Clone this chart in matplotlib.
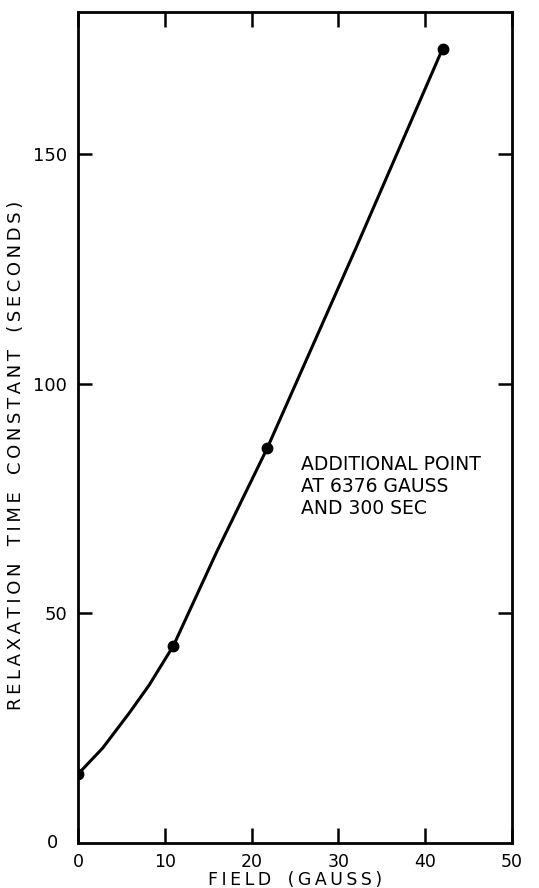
import matplotlib
matplotlib.use('Agg')
import matplotlib.pyplot as plt

# measured points (field in gauss, relaxation time constant in seconds)
field = [0, 11, 21.8, 42]
tau = [15, 43, 86, 173]

# points
curve_field = [0, 2.85, 5.9, 8.2, 11, 16, 21.8, 32, 42]
curve_tau = [15, 20.7, 28.3, 34.4, 43, 63.5, 86, 129.5, 173]

x_ticks = [0, 10, 20, 30, 40, 50]
y_ticks = [50, 100, 150]

plt.rcParams['font.family'] = ['DejaVu Sans']


def spaced(s):
    # hand lettering on the original is widely spaced
    return '\u2009'.join(s)


fig = plt.figure(figsize=(5.39, 8.88), dpi=100)
ax = fig.add_axes([78 / 539, 45 / 888, 434 / 539, 831 / 888])

ax.plot(curve_field, curve_tau, color='black', lw=2.2, solid_capstyle='round')
ax.plot(field, tau, 'o', color='black', ms=7.5)

ax.set_xlim(0, 50)
ax.set_ylim(0, 181)

for s in ax.spines.values():
    s.set_linewidth(2.0)

ax.set_xticks(x_ticks)
ax.set_xticklabels([str(v) for v in x_ticks], fontsize=12.5)
ax.set_yticks(y_ticks)
ax.set_yticklabels([str(v) for v in y_ticks], fontsize=13)
ax.tick_params(axis='both', direction='in', width=1.8, top=True, right=True)
ax.tick_params(axis='x', length=11, pad=7)
ax.tick_params(axis='y', length=10, pad=8)

# lone zero on the y axis, set at the corner
ax.text(-0.045, 0.0, '0', transform=ax.transAxes, fontsize=13,
        ha='right', va='center')

ax.set_xlabel(spaced('FIELD') + '   ' + spaced('(GAUSS)'), fontsize=12.5, va='center')
ax.xaxis.set_label_coords(0.5, -0.0445)
ax.set_ylabel('   '.join(spaced(w) for w in ['RELAXATION', 'TIME', 'CONSTANT', '(SECONDS)']),
              fontsize=13)
ax.yaxis.set_label_coords(-0.122, 0.466)

ax.text(25.7, 84.5, 'ADDITIONAL POINT\nAT 6376 GAUSS\nAND 300 SEC',
        fontsize=13.5, ha='left', va='top', linespacing=1.2)

fig.savefig('out.png', dpi=100)
